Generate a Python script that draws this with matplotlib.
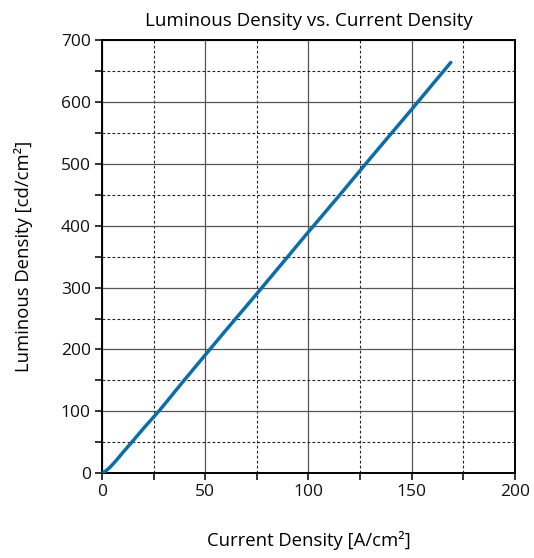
import matplotlib
matplotlib.use("Agg")
import matplotlib.pyplot as plt
from matplotlib.ticker import MultipleLocator

plt.rcParams['font.family'] = ['Open Sans', 'DejaVu Sans']

# current density [A/cm2] and luminous density [cd/cm2]
current = [0, 2, 4, 7, 10, 14.4, 20, 28, 40, 50, 60, 75, 90, 100, 115, 130, 150, 160, 169]
luminous = [0, 4, 10, 21, 33, 50, 72, 102, 151, 191, 231, 290, 350, 390, 449, 509, 588, 628, 664]

fig = plt.figure(figsize=(5.34, 5.58), dpi=100)
ax = fig.add_axes([0.191, 0.152, 0.773, 0.776])

ax.plot(current, luminous, color='#0a6eaa', lw=2.5, solid_capstyle='round', zorder=3)

ax.set_xlim(0, 200)
ax.set_ylim(0, 700)
ax.xaxis.set_major_locator(MultipleLocator(50))
ax.xaxis.set_minor_locator(MultipleLocator(25))
ax.yaxis.set_major_locator(MultipleLocator(100))
ax.yaxis.set_minor_locator(MultipleLocator(50))

ax.grid(which='major', color='#555555', lw=0.9, ls='-')
ax.grid(which='minor', color='#222222', lw=0.8, ls=(0, (2.5, 2)))
ax.tick_params(which='both', direction='out', length=5, width=1.2, labelsize=12.5, pad=3,
               colors='#111111')
for s in ax.spines.values():
    s.set_linewidth(1.4)

ax.set_title('Luminous Density vs. Current Density', fontsize=13.5, pad=10)
ax.set_xlabel('Current Density [A/cm²]', fontsize=13.3, labelpad=22)
ax.set_ylabel('Luminous Density [cd/cm²]', fontsize=13.3, labelpad=20)

fig.savefig('out.png', dpi=100)
